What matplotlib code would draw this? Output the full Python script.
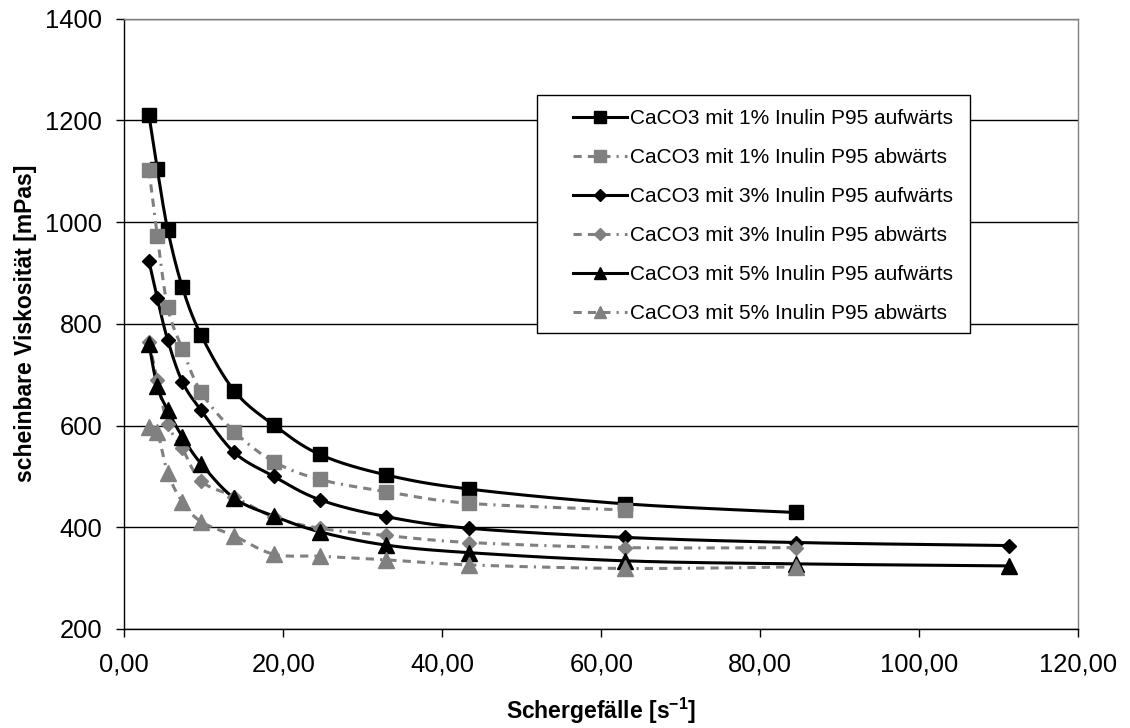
import numpy as np
import matplotlib
matplotlib.use("Agg")
import matplotlib.pyplot as plt
from matplotlib.patches import Rectangle
from matplotlib.ticker import FuncFormatter, MultipleLocator

plt.rcParams['font.family'] = ['Liberation Sans', 'DejaVu Sans']
plt.rcParams['mathtext.fontset'] = 'custom'
plt.rcParams['mathtext.rm'] = 'Liberation Sans'
plt.rcParams['mathtext.bf'] = 'Liberation Sans:bold'

# Shear rates [1/s]
shear = [3.1, 4.15, 5.46, 7.3, 9.65, 13.84, 18.8, 24.6, 32.9, 43.4, 63.0, 84.5, 111.3]

# Apparent viscosity [mPas]
visc_1_up = [1210, 1104, 985, 872, 778, 668, 601, 543, 503, 475, 446, 429]
visc_1_down = [1102, 973, 832, 751, 666, 588, 529, 494, 470, 447, 434]
visc_3_up = [923, 850, 768, 686, 630, 547, 500, 454, 421, 398, 380, 370, 364]
visc_3_down = [765, 690, 603, 555, 491, 460, 420, 398, 384, 370, 360, 360]
visc_5_up = [761, 677, 630, 578, 525, 457, 422, 391, 365, 350, 334, 328, 324]
visc_5_down = [597, 588, 507, 450, 411, 383, 347, 343, 336, 326, 319, 322]

labels = [
    "CaCO3 mit 1% Inulin P95 aufwärts",
    "CaCO3 mit 1% Inulin P95 abwärts",
    "CaCO3 mit 3% Inulin P95 aufwärts",
    "CaCO3 mit 3% Inulin P95 abwärts",
    "CaCO3 mit 5% Inulin P95 aufwärts",
    "CaCO3 mit 5% Inulin P95 abwärts",
]


def smooth(x, y, n=24):
    """Catmull-Rom style Bezier smoothing through all points."""
    P = np.column_stack([x, y]).astype(float)
    m = len(P)
    out = [P[0]]
    t = np.linspace(0, 1, n)[1:, None]
    for i in range(m - 1):
        p0 = P[i - 1] if i > 0 else P[i]
        p1 = P[i]
        p2 = P[i + 1]
        p3 = P[i + 2] if i + 2 < m else P[i + 1]
        b1 = p1 + (p2 - p0) / 6.0
        b2 = p2 - (p3 - p1) / 6.0
        seg = ((1 - t) ** 3) * p1 + 3 * ((1 - t) ** 2) * t * b1 + 3 * (1 - t) * t ** 2 * b2 + t ** 3 * p2
        out.extend(seg)
    out = np.array(out)
    return out[:, 0], out[:, 1]


W, H = 1130, 728
fig = plt.figure(figsize=(W / 100, H / 100), dpi=100)
ax = fig.add_axes([124.3 / W, 99 / H, (1078.3 - 124.3) / W, (629 - 18.5) / H])

GRAY = '#808080'
dash = (0, (2.7, 2, 2.7, 2, 2.7, 2, 0.7, 2))

series = [
    (visc_1_up, 's', 'black', '-', 10.5),
    (visc_1_down, 's', GRAY, dash, 10.5),
    (visc_3_up, 'D', 'black', '-', 7.5),
    (visc_3_down, 'D', GRAY, dash, 7.5),
    (visc_5_up, '^', 'black', '-', 11),
    (visc_5_down, '^', GRAY, dash, 11),
]

handles = []
for (vals, mk, col, ls, ms), lab in zip(series, labels):
    xs = shear[:len(vals)]
    sx, sy = smooth(xs, vals)
    ax.plot(sx, sy, color=col, lw=2.2, linestyle=ls, zorder=3)
    ax.plot(xs, vals, linestyle='none', marker=mk, ms=ms, color=col,
            markeredgecolor=col, zorder=4)
    h, = ax.plot([], [], color=col, lw=2.2, linestyle=ls, marker=mk, ms=ms * 0.85,
                 markeredgecolor=col, label=lab)
    handles.append(h)

ax.set_xlim(0, 120)
ax.set_ylim(200, 1400)
ax.xaxis.set_major_locator(MultipleLocator(20))
ax.yaxis.set_major_locator(MultipleLocator(200))
ax.xaxis.set_major_formatter(FuncFormatter(lambda v, p: f"{v:.2f}".replace('.', ',')))
ax.yaxis.set_major_formatter(FuncFormatter(lambda v, p: f"{v:.0f}"))

ax.grid(axis='y', color='black', lw=1.0, zorder=1)
ax.set_axisbelow(True)
for side in ('top', 'right'):
    ax.spines[side].set_color(GRAY)
    ax.spines[side].set_linewidth(1.0)
for side in ('left', 'bottom'):
    ax.spines[side].set_color('black')
    ax.spines[side].set_linewidth(1.0)

ax.tick_params(axis='both', direction='out', length=5.8, width=1, labelsize=18.4, color='black')
ax.tick_params(axis='x', pad=11)
ax.tick_params(axis='y', pad=10)

ax.set_ylabel('scheinbare Viskosität [mPas]', fontsize=16.5, fontweight='bold', labelpad=6)
ax.set_xlabel(r'Schergefälle [s$^{\mathbf{-1}}$]', fontsize=16.5, fontweight='bold', labelpad=14)

# Legend box with its entries placed inside
fig.patches.append(Rectangle((537 / W, 1 - 333 / H), (970 - 537) / W, (333 - 95) / H,
                             transform=fig.transFigure, facecolor='white',
                             edgecolor='black', lw=1.0, zorder=5))
leg = fig.legend(handles=handles, loc='upper left',
                 bbox_to_anchor=(573 / W, 1 - 109 / H),
                 fontsize=15, frameon=False, handlelength=2.6, handletextpad=0.15,
                 labelspacing=0.96, borderpad=0, numpoints=1, borderaxespad=0)
leg.set_zorder(6)

fig.savefig('out.png', dpi=100)
